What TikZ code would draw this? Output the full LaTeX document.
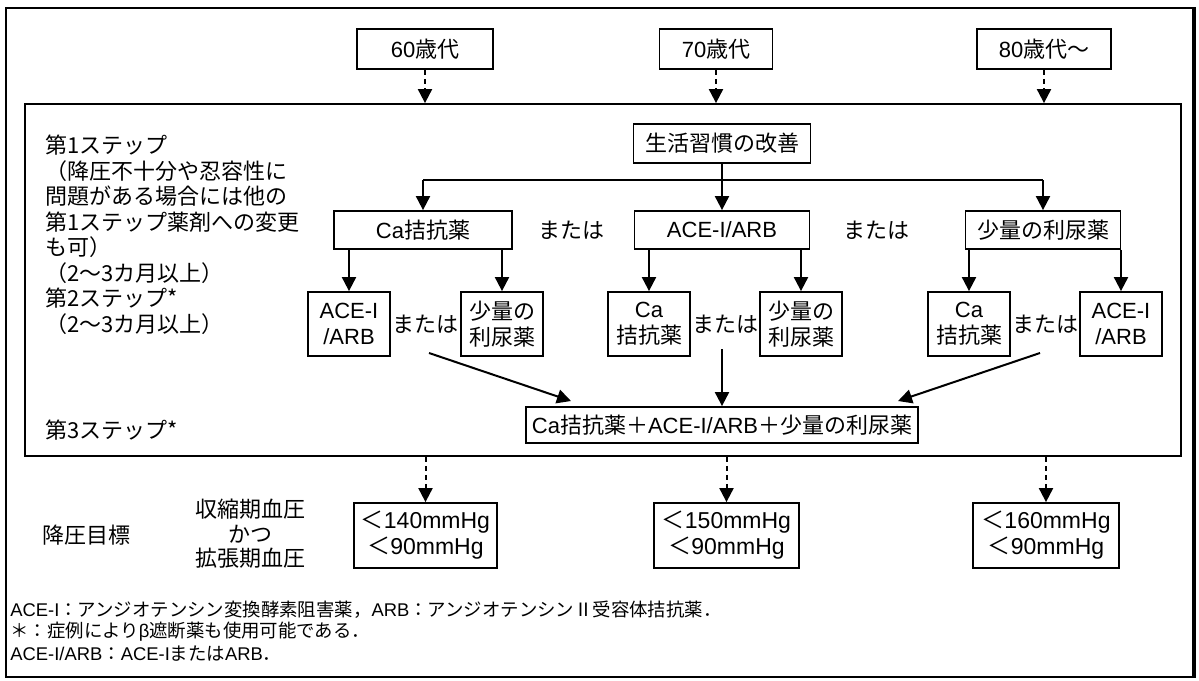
\documentclass[tikz,border=0pt]{standalone}
\usepackage{fontspec}
\setmainfont{Liberation Sans}
\newfontfamily\jp{Noto Sans CJK JP}
\newcommand\J[1]{{\jp#1}}
\usetikzlibrary{arrows.meta,calc}
\begin{document}
\begin{tikzpicture}[x=0.5pt,y=-0.5pt,
  every node/.style={font=\fontsize{11}{12.5}\selectfont, inner sep=0pt},
  bx/.style 2 args={draw, line width=0.9pt, minimum width=#1*0.5pt, minimum height=#2*0.5pt, align=center},
  lbl/.style={align=left},
  arr/.style={line width=1pt, -{Triangle[width=7pt,length=7pt]}},
  darr/.style={line width=1pt, dash pattern=on 2.5pt off 2pt, -{Triangle[width=7pt,length=7pt]}},
  ln/.style={line width=1pt},
  foot/.style={anchor=west, font=\fontsize{9.2}{11}\selectfont}]
\useasboundingbox (0,0) rectangle (1199,680);
% frames
\node[bx={1187}{669}, line width=0.8pt] (outer) at (599.5,342.5) {};
\draw[line width=2pt] (outer.north east) -- (outer.south east);
\node[bx={1156}{352}] (inner) at (603,280) {};
% age boxes
\node[bx={136}{40}] (a60) at (425,49) {60\J{歳代}};
\node[bx={113}{40}] (a70) at (716,49) {70\J{歳代}};
\node[bx={134}{40}] (a80) at (1044,49) {80\J{歳代～}};
\draw[darr] (a60.south) -- (a60.south |- inner.north);
\draw[darr] (a70.south) -- (a70.south |- inner.north);
\draw[darr] (a80.south) -- (a80.south |- inner.north);
% step 1
\node[bx={177}{39}] (life) at (722,143.5) {\J{生活習慣の改善}};
\coordinate (split) at (722,180);
\node[bx={178}{38}] (ca1) at (423,230) {Ca\J{拮抗薬}};
\node[bx={175}{38}] (ace1) at (722,230) {ACE-I/ARB};
\node[bx={155}{38}] (diu1) at (1043,230) {\J{少量の利尿薬}};
\node (or1) at (571,230) {\J{または}};
\node (or2) at (876,230) {\J{または}};
\draw[arr] (life) -- (ace1);
\draw[ln] (split -| ca1) -- (split -| diu1);
\draw[arr] (split -| ca1) -- (ca1.north);
\draw[arr] (split -| diu1) -- (diu1.north);
% step 2
\node[bx={82}{64}, font=\fontsize{11}{13}\selectfont] (s1a) at (349,324) {ACE-I\\/ARB};
\node[bx={82}{64}, font=\fontsize{11}{13}\selectfont] (s1b) at (502,324) {\J{少量の}\\\J{利尿薬}};
\node[bx={82}{64}, font=\fontsize{11}{13}\selectfont] (s2a) at (649,324) {Ca\\\J{拮抗薬}};
\node[bx={82}{64}, font=\fontsize{11}{13}\selectfont] (s2b) at (801,324) {\J{少量の}\\\J{利尿薬}};
\node[bx={82}{64}, font=\fontsize{11}{13}\selectfont] (s3a) at (969,324) {Ca\\\J{拮抗薬}};
\node[bx={82}{64}, font=\fontsize{11}{13}\selectfont] (s3b) at (1121,324) {ACE-I\\/ARB};
\node (m1) at (425.5,324) {\J{または}};
\node (m2) at (725,324) {\J{または}};
\node (m3) at (1045,324) {\J{または}};
\draw[arr] (ca1.south -| s1a) -- (s1a.north);
\draw[arr] (ca1.south -| s1b) -- (s1b.north);
\draw[arr] (ace1.south -| s2a) -- (s2a.north);
\draw[arr] (ace1.south -| s2b) -- (s2b.north);
\draw[arr] (diu1.south -| s3a) -- (s3a.north);
\draw[arr] (diu1.south -| s3b) -- (s3b.north);
% step 3
\node[bx={392}{36}] (combo) at (722,425) {Ca\J{拮抗薬＋}ACE-I/ARB\J{＋少量の利尿薬}};
\coordinate (k1) at (429,353);
\coordinate (k2) at (722,349);
\coordinate (k3) at (1040,353);
\coordinate (t1) at (571,401);
\coordinate (t3) at (898,401);
\draw[arr] (k1) -- (t1);
\draw[arr] (k2) -- (combo.north);
\draw[arr] (k3) -- (t3);
% left labels
\node[lbl, anchor=north west, font=\jp\fontsize{11}{12.75}\selectfont] (steps) at (45,135)
 {第1ステップ\\（降圧不十分や忍容性に\\問題がある場合には他の\\第1ステップ薬剤への変更\\も可）\\（2～3カ月以上）\\第2ステップ*\\（2～3カ月以上）};
\node[anchor=west, font=\jp\fontsize{11}{12.5}\selectfont] (step3) at (45,430) {第3ステップ*};
% targets
\node[anchor=west] (goal) at (42,535) {\J{降圧目標}};
\node[align=center, font=\jp\fontsize{11}{12.25}\selectfont] (bp) at (250,534) {収縮期血圧\\かつ\\拡張期血圧};
\node[bx={143}{65}, font=\fontsize{11.5}{13}\selectfont] (g1) at (425.5,535.5) {\J{＜}140mmHg\\\J{＜}90mmHg};
\node[bx={145}{65}, font=\fontsize{11.5}{13}\selectfont] (g2) at (726.5,535.5) {\J{＜}150mmHg\\\J{＜}90mmHg};
\node[bx={146}{65}, font=\fontsize{11.5}{13}\selectfont] (g3) at (1046,535.5) {\J{＜}160mmHg\\\J{＜}90mmHg};
\draw[darr] (g1.north |- inner.south) -- (g1.north);
\draw[darr] (g2.north |- inner.south) -- (g2.north);
\draw[darr] (g3.north |- inner.south) -- (g3.north);
% footnotes
\node[foot] (f1) at (10,610) {ACE-I\J{：アンジオテンシン変換酵素阻害薬，}ARB\J{：アンジオテンシンⅡ受容体拮抗薬．}};
\node[foot] (f2) at (10,632) {\J{＊：症例により}β\J{遮断薬も使用可能である．}};
\node[foot] (f3) at (10,654) {ACE-I/ARB\J{：}ACE-I\J{または}ARB\J{．}};
\end{tikzpicture}
\end{document}
